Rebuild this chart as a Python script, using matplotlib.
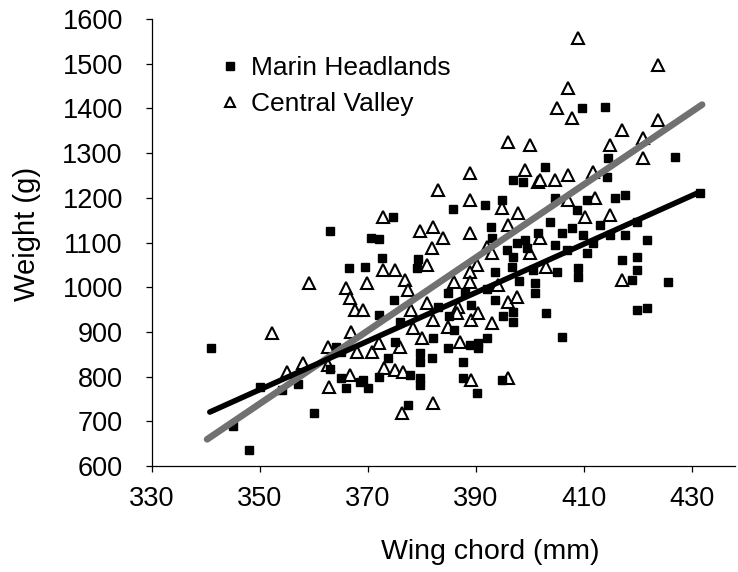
import matplotlib.pyplot as plt

plt.rcParams['font.family'] = ['Liberation Sans', 'DejaVu Sans']

# Marin Headlands (filled squares)
marin_x = [341, 345, 348, 350, 354, 357, 360, 363, 365, 366, 368.5, 370, 364, 365,
           363, 366.5, 369.5, 370.5, 372, 374.6, 372.6, 379.3, 379, 374.8, 369, 372,
           373.7, 375, 376, 379.6, 379.6, 377.8, 377.4, 372,
           385.7, 391.7, 394.8, 396.9, 398.7, 392.7, 393, 395.7, 397.6, 399, 396.9,
           399.4, 401.5,
           393.5, 396.7, 400.6, 401, 401, 384.8, 393.5, 396.9, 396.9, 382, 392, 390.4,
           390.4, 384.8, 388.9, 381.8, 387.6, 379.6, 379.6, 387.6, 394.8, 390.2, 403,
           406, 419.8, 421.7, 425.5,
           409.6, 413.9, 402.8, 414.4, 414.3, 426.9, 404.6, 410.5, 415.7, 417.6, 408.7,
           403.7, 407.8, 405.9, 413, 409.8, 414.8, 417.6, 419.8, 421.7, 404.6, 406.9,
           411.7, 410.5, 417, 419.8, 419.8, 408.9, 408.9, 405, 418.9, 431.5,
           386, 389, 392, 395, 383, 398, 388, 385]
marin_y = [865, 690, 636, 778, 770, 783, 720, 818, 797, 775, 788, 775, 866, 855,
           1125, 1043, 1045, 1110, 1108, 1157, 1065, 1063, 1043, 971, 792, 800,
           842, 878, 922, 852, 833, 804, 736, 937,
           1175, 1184, 1195, 1240, 1235, 1135, 1110, 1083, 1099, 1106, 1068,
           1088, 1121,
           1034, 1045, 1038, 1009, 987, 987, 971, 945, 922, 886, 886, 875,
           864, 864, 871, 842, 833, 797, 781, 797, 792, 763, 942,
           889, 949, 953, 1012,
           1401, 1403, 1269, 1289, 1247, 1291, 1200, 1195, 1200, 1206, 1173,
           1146, 1132, 1121, 1139, 1117, 1117, 1117, 1146, 1106, 1094, 1083,
           1099, 1076, 1061, 1068, 1038, 1043, 1023, 1034, 1016, 1210,
           905, 960, 995, 935, 955, 1015, 990, 935]

# Central Valley (open triangles)
valley_x = [352.2, 355, 358, 359, 362.6, 362.6, 362.8, 366, 366.7, 366.8, 367.6, 369,
            366.7, 368,
            372.8, 379.6, 372.8, 375, 369.8, 376.9, 377.4, 378, 370.7, 372, 376, 373,
            375, 376.5, 376.3,
            388.9, 399, 401.5, 383, 388.9, 394.8, 397.8, 396, 382, 383.9, 388.9,
            381.9, 392, 393, 400, 381, 390.2,
            388.9, 388.9, 386, 394, 396, 397.6, 381, 386.7, 389, 390.4, 386.5, 382,
            384.8, 393, 380, 387, 378.3, 389, 396, 382,
            408.9, 423.7, 407, 405, 407.8, 417, 423.7, 421, 414.8, 421, 400, 396,
            401.9, 404.6, 407, 411.7, 407, 412, 410.2, 414.8, 401.9, 403, 417]
valley_y = [897, 810, 830, 1009, 866, 826, 777, 998, 976, 900, 949, 949,
            803, 855,
            1157, 1126, 1038, 1038, 1010, 1016, 994, 949, 855, 875, 866, 819,
            815, 811, 718,
            1255, 1262, 1235, 1217, 1195, 1177, 1166, 1139, 1135, 1110, 1121,
            1088, 1090, 1076, 1076, 1050, 1050,
            1034, 1012, 1012, 1005, 967, 978, 965, 956, 927, 942, 942, 927,
            911, 920, 886, 877, 909, 792, 797, 741,
            1557, 1497, 1446, 1401, 1378, 1352, 1374, 1334, 1318, 1289, 1318, 1325,
            1240, 1240, 1251, 1258, 1195, 1200, 1157, 1161, 1110, 1045, 1016]

# regression lines: slope, intercept, x range
marin_fit = [5.42, -1125.6]
marin_range = [340.7, 431.5]
valley_fit = [8.16, -2116.0]
valley_range = [340.2, 431.9]

fig = plt.figure(figsize=(7.38, 5.72), dpi=100)
ax = fig.add_axes([0.206, 0.185, 0.790, 0.782])

ax.plot(marin_x, marin_y, linestyle='none', marker='s', ms=5.8, color='black',
        label='Marin Headlands', zorder=3)
ax.plot(valley_x, valley_y, linestyle='none', marker='^', ms=8.5, mfc='white',
        mec='black', mew=1.5, label='Central Valley', zorder=2)

vx = valley_range
ax.plot(vx, [valley_fit[0] * v + valley_fit[1] for v in vx], color='#717171',
        lw=4.8, solid_capstyle='round', zorder=4)
mx = marin_range
ax.plot(mx, [marin_fit[0] * v + marin_fit[1] for v in mx], color='black',
        lw=4, solid_capstyle='round', zorder=5)

ax.set_xlim(330, 438)
ax.set_ylim(600, 1600)
ax.set_xticks(range(330, 431, 20))
ax.set_yticks(range(600, 1601, 100))
ax.spines['top'].set_visible(False)
ax.spines['right'].set_visible(False)
ax.spines['left'].set_linewidth(0.9)
ax.spines['bottom'].set_linewidth(0.9)
ax.tick_params(direction='out', length=4, width=0.9, labelsize=19.5)
ax.tick_params(axis='y', pad=17)
ax.tick_params(axis='x', pad=10)

ax.set_xlabel('Wing chord (mm)', fontsize=20.5)
ax.set_ylabel('Weight (g)', fontsize=21)
ax.xaxis.set_label_coords(0.58, -0.163)
ax.yaxis.set_label_coords(-0.19, 0.52)

ax.legend(loc='upper left', bbox_to_anchor=(0.07, 0.97), frameon=False,
          fontsize=19, markerscale=0.9, handletextpad=0.3, labelspacing=0.45,
          handlelength=1.0)

plt.savefig('out.png', dpi=100)
